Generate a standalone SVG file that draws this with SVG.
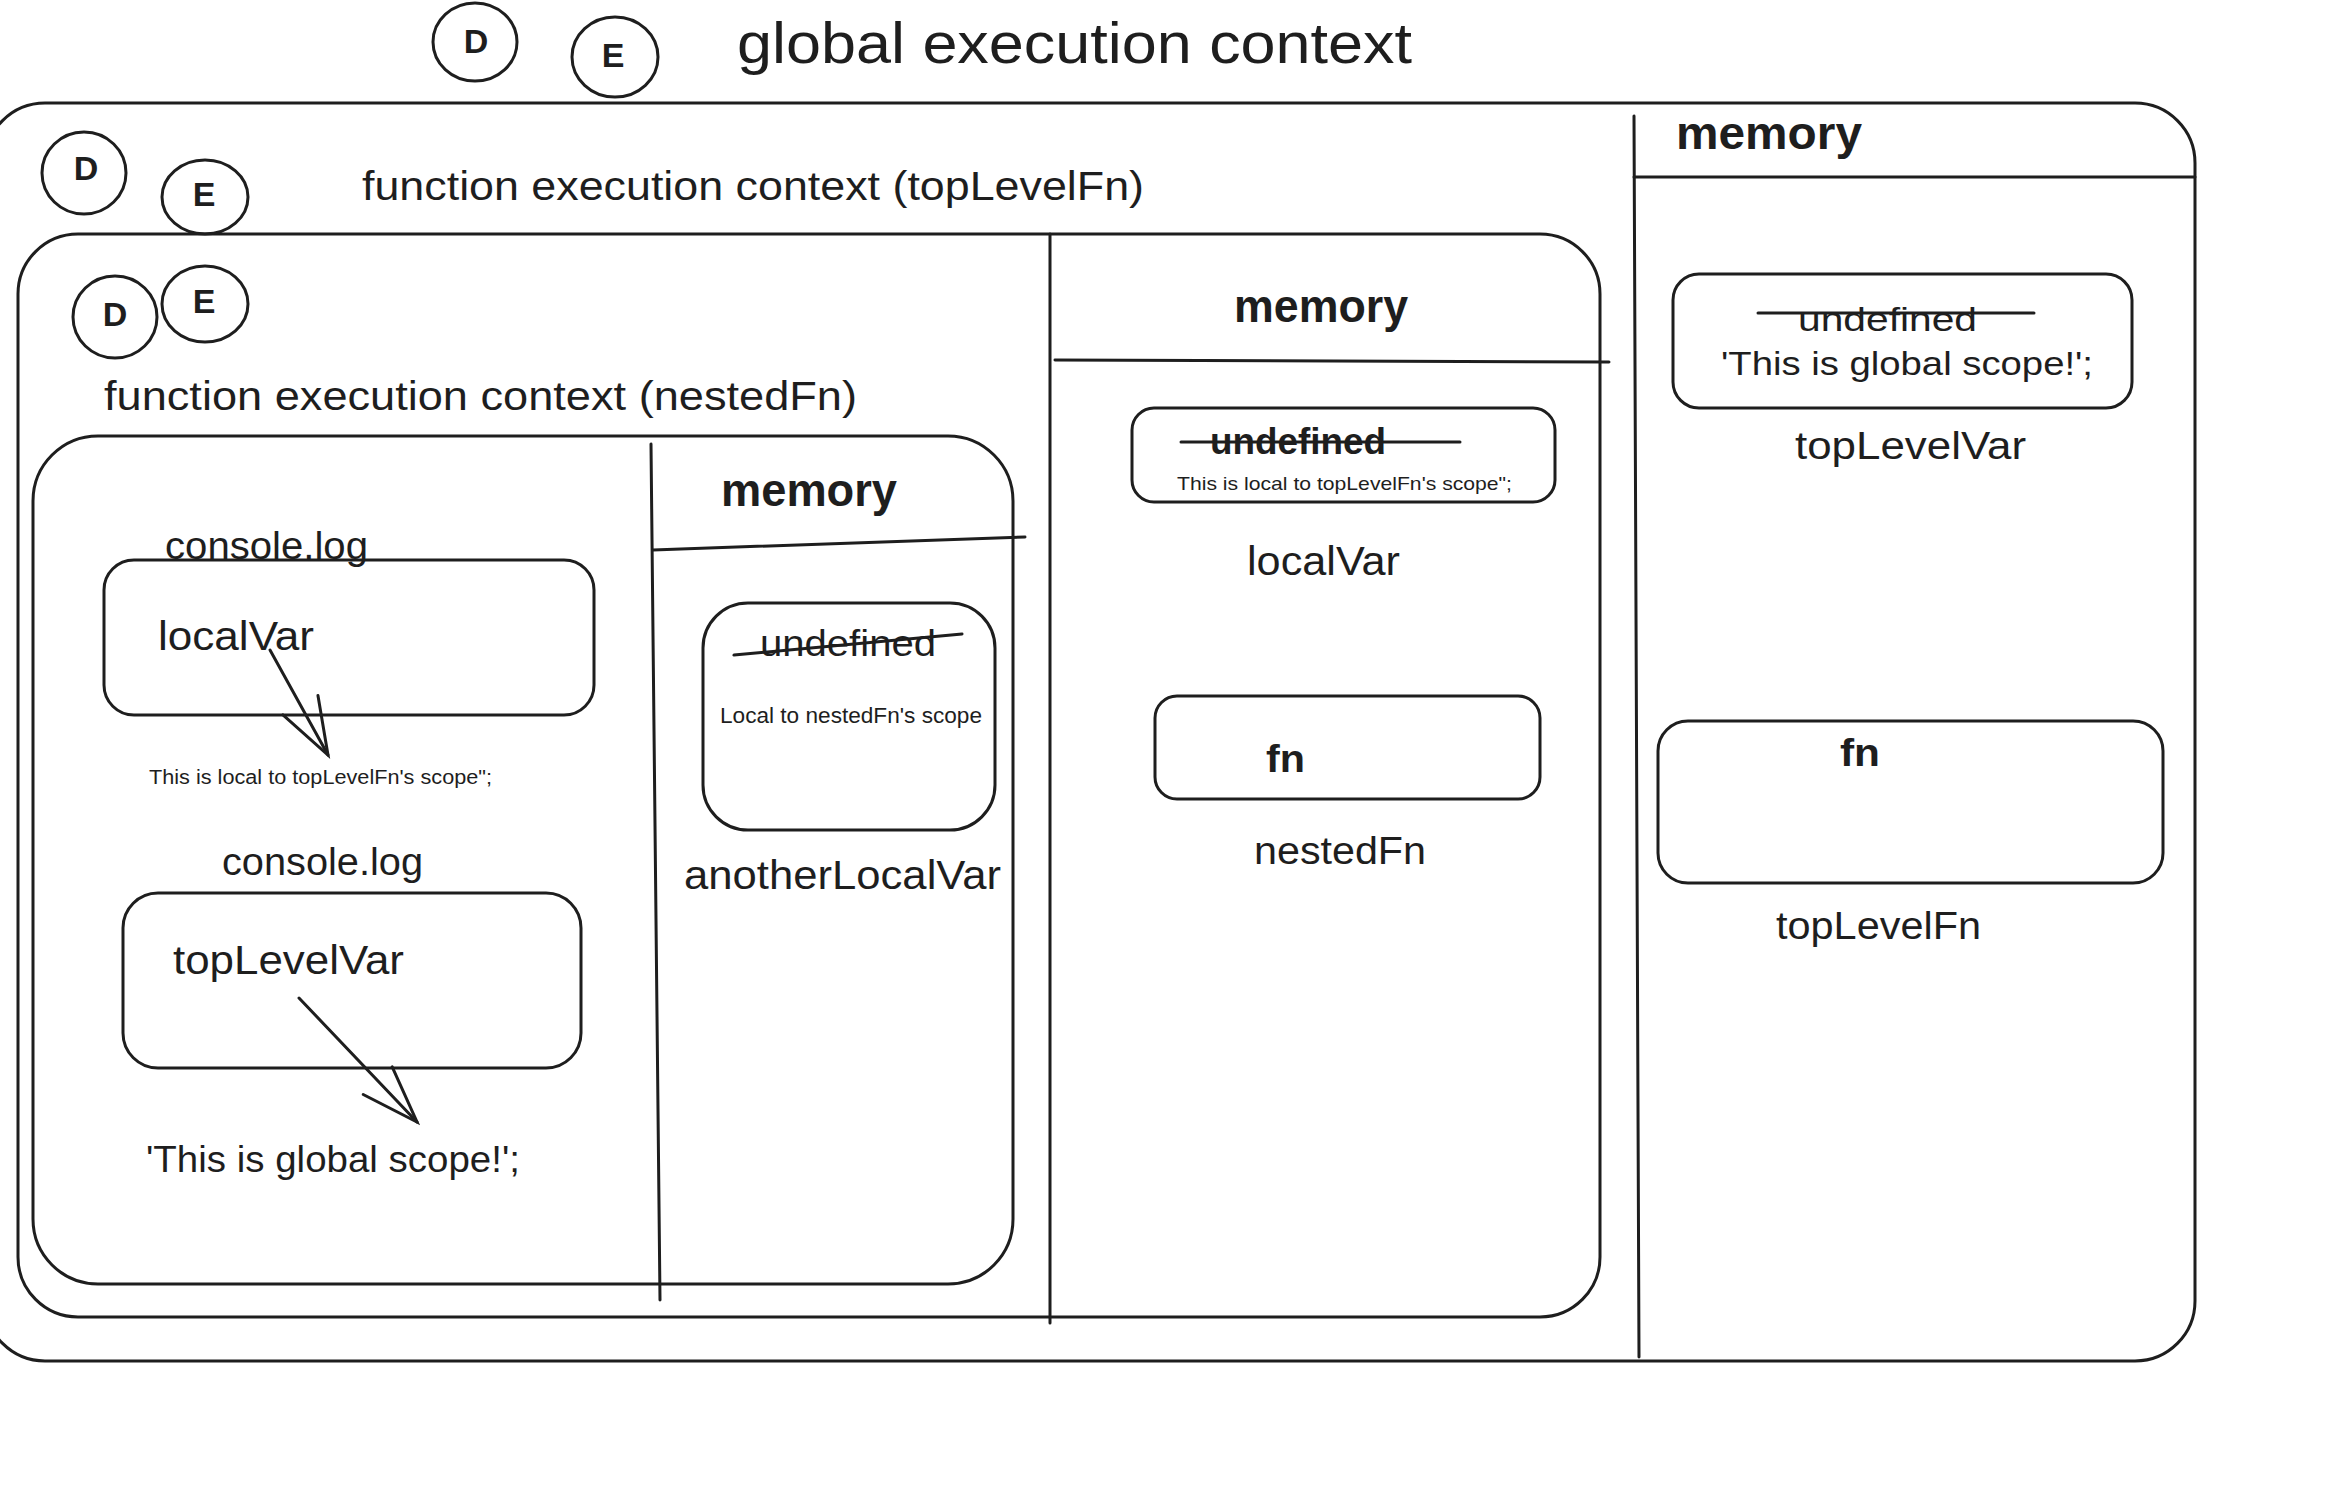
<svg xmlns="http://www.w3.org/2000/svg" width="2336" height="1500" viewBox="0 0 2336 1500">
<style>
.s{fill:none;stroke:#1e1e1e;stroke-width:3;stroke-linecap:round;stroke-linejoin:round}
.t{font-family:"Liberation Sans",Arial,sans-serif;fill:#1e1e1e}
.b{font-weight:bold}
.c{font-family:"Liberation Sans",Arial,sans-serif;fill:#1e1e1e;font-size:34px;text-anchor:middle;font-weight:bold}
</style>
<defs>
<marker id="ah" markerUnits="userSpaceOnUse" viewBox="-65 -25 70 50" markerWidth="70" markerHeight="50" refX="0" refY="0" orient="auto">
<path d="M -57 -20 L 0 0 L -57 20" fill="none" stroke="#1e1e1e" stroke-width="3" stroke-linecap="round"/>
</marker>
</defs>
<rect width="2336" height="1500" fill="#ffffff"/>

<g id="title">
<ellipse class="s" cx="475" cy="42" rx="42" ry="39"/>
<text class="c" x="476" y="53">D</text>
<ellipse class="s" cx="615" cy="57" rx="43" ry="40"/>
<text class="c" x="613" y="67">E</text>
<text class="t" x="737" y="63" font-size="58" textLength="675" lengthAdjust="spacingAndGlyphs">global execution context</text>
</g>

<g id="global-context">
<rect class="s" x="-15" y="103" width="2210" height="1258" rx="60"/>
<line class="s" x1="1634" y1="116" x2="1639" y2="1357"/>
<line class="s" x1="1634" y1="177" x2="2195" y2="177"/>
<text class="t b" x="1676" y="149" font-size="46" textLength="186" lengthAdjust="spacingAndGlyphs">memory</text>
</g>

<g id="global-topLevelVar">
<rect class="s" x="1673" y="274" width="459" height="134" rx="26"/>
<text class="t" x="1798" y="331" font-size="34" textLength="179" lengthAdjust="spacingAndGlyphs">undefined</text>
<line class="s" x1="1758" y1="313" x2="2034" y2="313"/>
<text class="t" x="1721" y="375" font-size="34" textLength="372" lengthAdjust="spacingAndGlyphs">'This is global scope!';</text>
<text class="t" x="1795" y="459" font-size="38" textLength="231" lengthAdjust="spacingAndGlyphs">topLevelVar</text>
</g>

<g id="global-topLevelFn">
<rect class="s" x="1658" y="721" width="505" height="162" rx="30"/>
<text class="t b" x="1840" y="766" font-size="38" textLength="40" lengthAdjust="spacingAndGlyphs">fn</text>
<text class="t" x="1776" y="939" font-size="38" textLength="205" lengthAdjust="spacingAndGlyphs">topLevelFn</text>
</g>

<g id="global-labels">
<ellipse class="s" cx="84" cy="173" rx="42" ry="41"/>
<text class="c" x="86" y="180">D</text>
<ellipse class="s" cx="205" cy="197" rx="43" ry="37"/>
<text class="c" x="204" y="206">E</text>
<text class="t" x="362" y="200" font-size="40" textLength="782" lengthAdjust="spacingAndGlyphs">function execution context (topLevelFn)</text>
</g>

<g id="topLevelFn-context">
<rect class="s" x="18" y="234" width="1582" height="1083" rx="60"/>
<line class="s" x1="1050" y1="234" x2="1050" y2="1323"/>
<line class="s" x1="1055" y1="360" x2="1609" y2="362"/>
<text class="t b" x="1234" y="322" font-size="46" textLength="174" lengthAdjust="spacingAndGlyphs">memory</text>
<ellipse class="s" cx="115" cy="317" rx="42" ry="41"/>
<text class="c" x="115" y="326">D</text>
<ellipse class="s" cx="205" cy="304" rx="43" ry="38"/>
<text class="c" x="204" y="313">E</text>
<text class="t" x="104" y="410" font-size="40" textLength="753" lengthAdjust="spacingAndGlyphs">function execution context (nestedFn)</text>
</g>

<g id="topLevelFn-localVar">
<rect class="s" x="1132" y="408" width="423" height="94" rx="22"/>
<text class="t b" x="1210" y="454" font-size="36" textLength="176" lengthAdjust="spacingAndGlyphs">undefined</text>
<line class="s" x1="1181" y1="442" x2="1460" y2="442"/>
<text class="t" x="1177" y="490" font-size="19" textLength="335" lengthAdjust="spacingAndGlyphs">This is local to topLevelFn's scope";</text>
<text class="t" x="1247" y="575" font-size="40" textLength="153" lengthAdjust="spacingAndGlyphs">localVar</text>
</g>

<g id="topLevelFn-nestedFn">
<rect class="s" x="1155" y="696" width="385" height="103" rx="22"/>
<text class="t b" x="1266" y="772" font-size="38" textLength="39" lengthAdjust="spacingAndGlyphs">fn</text>
<text class="t" x="1254" y="864" font-size="38" textLength="172" lengthAdjust="spacingAndGlyphs">nestedFn</text>
</g>

<g id="nestedFn-context">
<rect class="s" x="33" y="436" width="980" height="848" rx="65"/>
<line class="s" x1="651" y1="444" x2="660" y2="1300"/>
<line class="s" x1="653" y1="550" x2="1025" y2="537"/>
<text class="t b" x="721" y="506" font-size="46" textLength="176" lengthAdjust="spacingAndGlyphs">memory</text>
</g>

<g id="nestedFn-anotherLocalVar">
<rect class="s" x="703" y="603" width="292" height="227" rx="45"/>
<text class="t" x="760" y="656" font-size="36" textLength="176" lengthAdjust="spacingAndGlyphs">undefined</text>
<line class="s" x1="734" y1="655" x2="962" y2="634"/>
<text class="t" x="720" y="723" font-size="22" textLength="262" lengthAdjust="spacingAndGlyphs">Local to nestedFn's scope</text>
<text class="t" x="684" y="889" font-size="40" textLength="317" lengthAdjust="spacingAndGlyphs">anotherLocalVar</text>
</g>

<g id="log-localVar">
<text class="t" x="165" y="559" font-size="38" textLength="203" lengthAdjust="spacingAndGlyphs">console.log</text>
<rect class="s" x="104" y="560" width="490" height="155" rx="30"/>
<text class="t" x="158" y="650" font-size="40" textLength="156" lengthAdjust="spacingAndGlyphs">localVar</text>
<text class="t" x="149" y="784" font-size="20" textLength="343" lengthAdjust="spacingAndGlyphs">This is local to topLevelFn's scope";</text>
</g>

<g id="log-topLevelVar">
<text class="t" x="222" y="875" font-size="38" textLength="201" lengthAdjust="spacingAndGlyphs">console.log</text>
<rect class="s" x="123" y="893" width="458" height="175" rx="35"/>
<text class="t" x="173" y="974" font-size="40" textLength="231" lengthAdjust="spacingAndGlyphs">topLevelVar</text>
<text class="t" x="146" y="1172" font-size="36" textLength="374" lengthAdjust="spacingAndGlyphs">'This is global scope!';</text>
</g>

<g id="connectors">
<line class="s" x1="270" y1="650" x2="328" y2="755" marker-end="url(#ah)"/>
<line class="s" x1="299" y1="998" x2="417" y2="1122" marker-end="url(#ah)"/>
</g>
</svg>
